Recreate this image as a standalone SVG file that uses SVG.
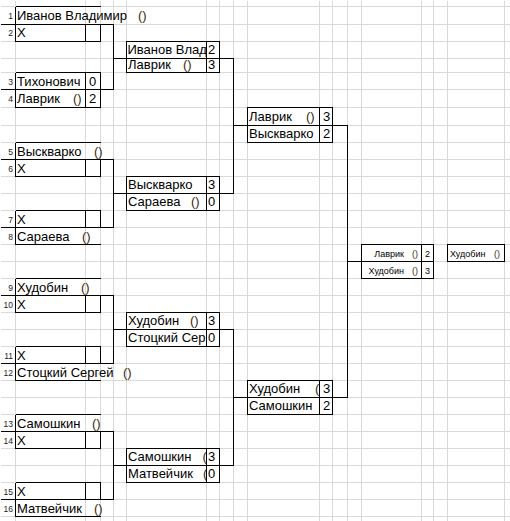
<svg xmlns="http://www.w3.org/2000/svg" width="510" height="521" viewBox="0 0 510 521">
<style>
.grid{stroke:#d9d9d9;stroke-width:1;fill:none;shape-rendering:crispEdges}
.b{stroke:#000;stroke-width:1;fill:none;shape-rendering:crispEdges}
.t{font-family:"Liberation Sans",Arial,sans-serif;font-size:13px;fill:#000}
.n{font-family:"Liberation Sans",Arial,sans-serif;font-size:8.5px;fill:#222;text-anchor:end}
.s{font-family:"Liberation Sans",Arial,sans-serif;font-size:9px;fill:#000}
.p{fill:#3a2a10}
</style>
<defs>
<clipPath id="c2m1"><rect x="126" y="41" width="80" height="17"/></clipPath>
<clipPath id="c2m3"><rect x="126" y="329" width="80" height="17"/></clipPath>
<clipPath id="c2m4"><rect x="126" y="440" width="80" height="50"/></clipPath>
<clipPath id="c3m2"><rect x="247" y="375" width="72" height="25"/></clipPath>
</defs>
<rect width="510" height="521" fill="#fff"/>
<g class="grid" transform="translate(0.5,0.5)">
<path d="M0 6H510M0 24H510M0 41H510M0 58H510M0 72H510M0 89H510M0 107H510M0 125H510M0 142H510M0 159H510M0 176H510M0 193H510M0 210H510M0 227H510M0 244H510M0 261H510M0 278H510M0 295H510M0 312H510M0 329H510M0 346H510M0 363H510M0 380H510M0 397H510M0 414H510M0 431H510M0 448H510M0 465H510M0 482H510M0 499H510M0 516H510"/>
<path d="M15 0V521M85 0V521M100 0V521M113 0V521M126 0V521M206 0V521M219 0V521M233 0V521M247 0V521M319 0V521M332 0V521M347 0V521M361 0V521M421 0V521M433 0V521M447 0V521M504 0V521"/>
</g>

<g id="connectors" class="b" transform="translate(0.5,0.5)">
<path d="M100 24H113V89H100M113 58H126M219 58H233"/>
<path d="M100 159H113V227H100M113 193H126M219 193H233"/>
<path d="M100 295H113V363H100M113 329H126M219 329H233"/>
<path d="M100 431H113V499H100M113 465H126M219 465H233"/>
<path d="M233 58V193M233 125H247M332 125H347"/>
<path d="M233 329V465M233 397H247M332 397H347"/>
<path d="M347 125V397M347 261H361"/>
</g>

<!-- Round 1 group 1 -->
<g id="p1">
<path class="b" transform="translate(0.5,0.5)" d="M15 6H100M15 6V24M0 24H100"/>
<text class="n" x="13" y="19">1</text>
<text class="t" x="17" y="20">Иванов Владимир<tspan class="p" x="138">()</tspan></text>
</g>
<g id="p2">
<path class="b" transform="translate(0.5,0.5)" d="M15 24V41H100V24M85 24V41"/>
<text class="n" x="13" y="36">2</text>
<text class="t" x="17" y="37">X</text>
</g>
<g id="p3">
<path class="b" transform="translate(0.5,0.5)" d="M15 72H100M15 72V89M0 89H100M85 72V89M100 72V89"/>
<text class="n" x="13" y="85">3</text>
<text class="t" x="17" y="85.5">Тихонович</text>
<text class="t" x="89" y="85.5">0</text>
</g>
<g id="p4">
<path class="b" transform="translate(0.5,0.5)" d="M15 89V107H100V89M85 89V107"/>
<text class="n" x="13" y="102">4</text>
<text class="t" x="17" y="103">Лаврик<tspan class="p" x="73">()</tspan></text>
<text class="t" x="89" y="103">2</text>
</g>

<!-- Round 1 group 2 -->
<g id="p5">
<path class="b" transform="translate(0.5,0.5)" d="M15 142H100M15 142V159M0 159H100"/>
<text class="n" x="13" y="155">5</text>
<text class="t" x="17" y="155.5">Выскварко<tspan class="p" x="94">()</tspan></text>
</g>
<g id="p6">
<path class="b" transform="translate(0.5,0.5)" d="M15 159V176H100V159M85 159V176"/>
<text class="n" x="13" y="172">6</text>
<text class="t" x="17" y="172.5">X</text>
</g>
<g id="p7">
<path class="b" transform="translate(0.5,0.5)" d="M15 210H100M15 210V227M0 227H100M85 210V227M100 210V227"/>
<text class="n" x="13" y="223">7</text>
<text class="t" x="17" y="223.5">X</text>
</g>
<g id="p8">
<path class="b" transform="translate(0.5,0.5)" d="M15 227V244H100"/>
<text class="n" x="13" y="240">8</text>
<text class="t" x="17" y="240.5">Сараева<tspan class="p" x="82">()</tspan></text>
</g>

<!-- Round 1 group 3 -->
<g id="p9">
<path class="b" transform="translate(0.5,0.5)" d="M15 278H100M15 278V295M0 295H100"/>
<text class="n" x="13" y="291">9</text>
<text class="t" x="17" y="291.5">Худобин<tspan class="p" x="81">()</tspan></text>
</g>
<g id="p10">
<path class="b" transform="translate(0.5,0.5)" d="M15 295V312H100V295M85 295V312"/>
<text class="n" x="13" y="308">10</text>
<text class="t" x="17" y="308.5">X</text>
</g>
<g id="p11">
<path class="b" transform="translate(0.5,0.5)" d="M15 346H100M15 346V363M0 363H100M85 346V363M100 346V363"/>
<text class="n" x="13" y="359">11</text>
<text class="t" x="17" y="359.5">X</text>
</g>
<g id="p12">
<path class="b" transform="translate(0.5,0.5)" d="M15 363V380H100"/>
<text class="n" x="13" y="376">12</text>
<text class="t" x="17" y="376.5">Стоцкий Сергей<tspan class="p" x="123">()</tspan></text>
</g>

<!-- Round 1 group 4 -->
<g id="p13">
<path class="b" transform="translate(0.5,0.5)" d="M15 414H100M15 414V431M0 431H100"/>
<text class="n" x="13" y="427">13</text>
<text class="t" x="17" y="427.5">Самошкин<tspan class="p" x="92">()</tspan></text>
</g>
<g id="p14">
<path class="b" transform="translate(0.5,0.5)" d="M15 431V448H100V431M85 431V448"/>
<text class="n" x="13" y="444">14</text>
<text class="t" x="17" y="444.5">X</text>
</g>
<g id="p15">
<path class="b" transform="translate(0.5,0.5)" d="M15 482H100M15 482V499M0 499H100M85 482V499M100 482V499"/>
<text class="n" x="13" y="495">15</text>
<text class="t" x="17" y="495.5">X</text>
</g>
<g id="p16">
<path class="b" transform="translate(0.5,0.5)" d="M15 499V516H100"/>
<text class="n" x="13" y="512">16</text>
<text class="t" x="17" y="512.5">Матвейчик<tspan class="p" x="94">()</tspan></text>
</g>

<!-- Round 2 -->
<g id="r2m1">
<path class="b" transform="translate(0.5,0.5)" d="M126 41H219V72H126ZM126 58H219M206 41V72"/>
<text class="t" x="127.5" y="54" clip-path="url(#c2m1)">Иванов Влад</text>
<text class="t" x="208" y="54">2</text>
<text class="t" x="128" y="69">Лаврик<tspan class="p" x="183">()</tspan></text>
<text class="t" x="208" y="69">3</text>
</g>
<g id="r2m2">
<path class="b" transform="translate(0.5,0.5)" d="M126 176H219V210H126ZM126 193H219M206 176V210"/>
<text class="t" x="128" y="189">Выскварко</text>
<text class="t" x="208" y="189">3</text>
<text class="t" x="128" y="206">Сараева<tspan class="p" x="191">()</tspan></text>
<text class="t" x="208" y="206">0</text>
</g>
<g id="r2m3">
<path class="b" transform="translate(0.5,0.5)" d="M126 312H219V346H126ZM126 329H219M206 312V346"/>
<text class="t" x="128" y="325">Худобин<tspan class="p" x="190">()</tspan></text>
<text class="t" x="208" y="325">3</text>
<text class="t" x="128" y="342" clip-path="url(#c2m3)">Стоцкий Сер</text>
<text class="t" x="208" y="342">0</text>
</g>
<g id="r2m4">
<path class="b" transform="translate(0.5,0.5)" d="M126 448H219V482H126ZM126 465H219M206 448V482"/>
<text class="t" x="128" y="461" clip-path="url(#c2m4)">Самошкин<tspan class="p" x="202.5">(</tspan></text>
<text class="t" x="208" y="461">3</text>
<text class="t" x="128" y="478" clip-path="url(#c2m4)">Матвейчик<tspan class="p" x="203">(</tspan></text>
<text class="t" x="208" y="478">0</text>
</g>

<!-- Round 3 -->
<g id="r3m1">
<path class="b" transform="translate(0.5,0.5)" d="M247 107H332V142H247ZM247 125H332M319 107V142"/>
<text class="t" x="249" y="121">Лаврик<tspan class="p" x="306">()</tspan></text>
<text class="t" x="323" y="121">3</text>
<text class="t" x="249" y="138">Выскварко</text>
<text class="t" x="323" y="138">2</text>
</g>
<g id="r3m2">
<path class="b" transform="translate(0.5,0.5)" d="M247 380H332V414H247ZM247 397H332M319 380V414"/>
<text class="t" x="249" y="393" clip-path="url(#c3m2)">Худобин<tspan class="p" x="315">(</tspan></text>
<text class="t" x="323" y="393">3</text>
<text class="t" x="249" y="410">Самошкин</text>
<text class="t" x="323" y="410">2</text>
</g>

<!-- Final -->
<g id="final">
<path class="b" transform="translate(0.5,0.5)" d="M361 244H433V278H361ZM361 261H433M421 244V278"/>
<text class="s" x="404" y="257" text-anchor="end">Лаврик</text>
<text class="s p" x="412" y="257">()</text>
<text class="s" x="425" y="257">2</text>
<text class="s" x="404" y="274" text-anchor="end">Худобин</text>
<text class="s p" x="412" y="274">()</text>
<text class="s" x="425" y="274">3</text>
</g>

<!-- Winner -->
<g id="winner">
<path class="b" transform="translate(0.5,0.5)" d="M447 244H504V261H447Z"/>
<text class="s" x="450" y="257">Худобин</text>
<text class="s p" x="494" y="257">()</text>
</g>
</svg>
